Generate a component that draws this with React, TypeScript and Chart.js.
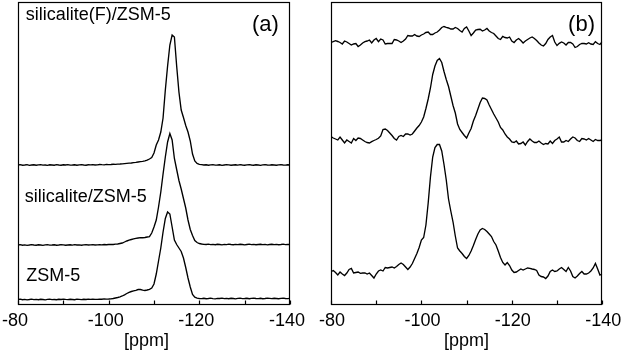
import React, { useEffect, useRef } from 'react';
import { Chart, registerables } from 'chart.js';

Chart.register(...registerables);

const FONT = '"Liberation Sans", Arial, Helvetica, sans-serif';

// chemical shift grid (ppm), 0.5 ppm steps
const ppm = [
  -80, -80.5, -81, -81.5, -82, -82.5, -83, -83.5, -84, -84.5,
  -85, -85.5, -86, -86.5, -87, -87.5, -88, -88.5, -89, -89.5,
  -90, -90.5, -91, -91.5, -92, -92.5, -93, -93.5, -94, -94.5,
  -95, -95.5, -96, -96.5, -97, -97.5, -98, -98.5, -99, -99.5,
  -100, -100.5, -101, -101.5, -102, -102.5, -103, -103.5, -104, -104.5,
  -105, -105.5, -106, -106.5, -107, -107.5, -108, -108.5, -109, -109.5,
  -110, -110.5, -111, -111.5, -112, -112.5, -113, -113.5, -114, -114.5,
  -115, -115.5, -116, -116.5, -117, -117.5, -118, -118.5, -119, -119.5,
  -120, -120.5, -121, -121.5, -122, -122.5, -123, -123.5, -124, -124.5,
  -125, -125.5, -126, -126.5, -127, -127.5, -128, -128.5, -129, -129.5,
  -130, -130.5, -131, -131.5, -132, -132.5, -133, -133.5, -134, -134.5,
  -135, -135.5, -136, -136.5, -137, -137.5, -138, -138.5, -139, -139.5,
  -140,
];

const xTicksLabelled = [-80, -100, -120, -140];

// panel (a): stacked spectra (intensity incl. vertical offset)
const aSilicaliteF = [
  140, 140.3, 139.8, 140, 140.4, 139.7, 140, 140.2, 139.8, 140.1,
  140.4, 139.9, 140, 139.6, 140.2, 140, 139.8, 140.3, 140, 139.8,
  140.2, 140, 140.4, 139.9, 140, 140.2, 139.8, 140.1, 140.3, 140,
  139.8, 140.2, 140.1, 140.4, 140, 140.2, 140.5, 140.3, 140.2, 140.6,
  140.4, 140.5, 140.7, 140.6, 140.9, 141, 141.2, 141.4, 141.6, 141.8,
  142, 142.4, 142.6, 143, 143.3, 143.6, 144.1, 144.8, 146, 147.5,
  152, 160, 165, 173, 187, 215, 239, 260, 270, 268,
  239, 213, 195, 187.5, 179.5, 173, 164, 151, 144, 141.5,
  140.6, 140.3, 140, 140.2, 139.8, 140.1, 140.3, 139.9, 140, 140.2,
  139.7, 140, 140.3, 140.1, 139.8, 140, 140.2, 139.9, 140.3, 140,
  139.8, 140.1, 140.4, 140, 139.8, 140.2, 140, 139.7, 140.1, 140.3,
  140, 139.9, 140.2, 140, 139.8, 140.1, 140.3, 140, 139.9, 140.2,
  140,
];

const aSilicalite = [
  60, 60.3, 59.8, 60.1, 59.7, 60, 60.4, 60, 59.8, 60.2,
  60, 59.7, 60.1, 60.3, 59.9, 60, 60.2, 59.8, 60, 60.4,
  60.1, 59.8, 60, 60.2, 59.9, 60.3, 60, 60.1, 59.8, 60.2,
  60.4, 60, 60.1, 60.3, 60, 60.2, 60.4, 60.2, 60.5, 60.3,
  60.5, 60.6, 60.5, 60.8, 61, 61.5, 62, 63, 64, 64.8,
  65.5, 66.2, 66.7, 67, 67.3, 67.3, 67.5, 68, 68.3, 72,
  78, 85, 98, 113, 131, 148, 163, 171.5, 165, 146.5,
  135.5, 124.5, 116, 106.5, 97, 85, 75.5, 69.5, 64.5, 62.5,
  61.5, 61, 60.7, 60.5, 60.8, 60.4, 60.6, 60.3, 60.7, 60.5,
  60.2, 60.6, 60.4, 60.8, 60.5, 60.3, 60.6, 60.4, 60.7, 60.5,
  60.2, 60.5, 60.8, 60.4, 60.6, 60.3, 60.5, 60.7, 60.4, 60.6,
  60.2, 60.5, 60.7, 60.4, 60.6, 60.3, 60.5, 60.8, 60.4, 60.6,
  60.5,
];

const aZSM5 = [
  5.5, 5.8, 5.3, 5.6, 5.2, 5.5, 5.9, 5.4, 5.6, 5.3,
  5.7, 5.5, 5.2, 5.6, 5.8, 5.4, 5.5, 5.3, 5.7, 5.5,
  5.9, 5.6, 5.4, 5.7, 5.5, 5.3, 5.8, 5.6, 5.4, 5.7,
  5.5, 5.8, 5.6, 5.9, 5.7, 5.6, 5.9, 5.8, 6.1, 5.9,
  6, 6.2, 6.5, 7, 7.5, 8.2, 9, 10.2, 11.5, 12.6,
  13.5, 14.2, 14.7, 15.5, 15.5, 14.8, 14.5, 15, 15.7, 17,
  21, 31, 44, 57, 73, 86.5, 93, 91, 78, 65,
  60.5, 57, 53.5, 47, 37.5, 27, 18, 10.5, 7.8, 6.8,
  6.5, 6.4, 6.7, 6.3, 6.5, 6.8, 6.4, 6.2, 6.6, 6.5,
  6.9, 6.4, 6.6, 6.3, 6.7, 6.5, 6.2, 6.6, 6.8, 6.4,
  6.5, 6.7, 6.3, 6.6, 6.9, 6.5, 6.4, 6.7, 6.3, 6.5,
  6.8, 6.6, 6.4, 6.7, 6.5, 6.3, 6.6, 6.8, 6.5, 6.4,
  6.6,
];

// panel (b)
const bTop = [
  262.3, 263.5, 264.3, 263.5, 262.5, 261, 264, 263, 261.5, 260,
  261, 261.5, 258.5, 260, 262, 263.3, 264, 265, 262, 265,
  266.5, 263.3, 266, 265, 261, 261.5, 261.5, 261.5, 265.5, 265,
  264, 262.5, 264, 266, 269.5, 269, 269, 270.5, 269, 268.5,
  270, 271, 272.5, 273, 270.5, 270.5, 272, 273, 275, 277.5,
  278.5, 277.7, 277, 276, 276, 277.5, 276.5, 274.5, 273, 276.5,
  278, 274, 269.5, 272, 275, 275.5, 275.7, 274, 275, 276.5,
  274, 272.5, 271.5, 269, 266.5, 265.5, 268.7, 267.5, 267, 268,
  264, 262.5, 265, 266.5, 264.5, 262, 264, 265.5, 267, 268,
  266.5, 264.5, 262, 260, 259, 261.5, 265.5, 268, 269.5, 263,
  259.5, 261.7, 263, 262, 260, 262.5, 262.5, 261, 257.5, 258.5,
  260.5, 261.5, 261.5, 261, 262.3, 261, 260.5, 263.3, 261.5, 260.5,
  263.3,
];

const bMiddle = [
  168.3, 167, 166, 165, 168, 165, 162, 165, 163.5, 162,
  166.5, 164.5, 167, 166.5, 165, 163.5, 162.5, 162, 163.3, 164.5,
  165.5, 166.7, 169, 175.5, 176, 174.5, 172, 169.5, 166.5, 165,
  168.5, 169.5, 168.5, 171, 171, 170, 171, 174, 177, 179.5,
  183, 188, 196.5, 206, 217, 230.5, 239, 244.5, 246.5, 242.5,
  233.5, 225.5, 218.5, 209, 199.5, 192, 181, 175.5, 172.5, 169.5,
  167, 172, 176.5, 184, 189.5, 196, 202.5, 207, 206.5, 205,
  200, 195.5, 191, 187, 183, 177.5, 175, 171, 168, 166,
  163, 162.5, 164, 161, 161.5, 163, 160, 163.5, 166, 164,
  162.5, 162.5, 164, 162, 160.5, 161.5, 161, 164, 161.5, 164.5,
  166, 168, 163, 163, 164.5, 163.5, 166, 168, 167, 164.5,
  163.5, 166.5, 166, 165, 166.5, 165, 163.5, 165.5, 164.5, 164.5,
  165,
];

const bBottom = [
  33.3, 34.5, 32.5, 30, 33, 31, 29.5, 32, 35.5, 36.5,
  32, 32.5, 33, 31.7, 32, 32, 31, 32, 29.5, 27,
  31, 34, 35, 34, 37.5, 37, 37.5, 38, 37, 38.5,
  40.5, 42, 40.5, 38, 35.5, 38, 41.5, 46.5, 51.5, 57.5,
  65, 67.5, 80, 102, 128, 148, 157.5, 160.5, 160.5, 154,
  140.5, 125, 106, 94, 83, 69, 57, 54, 51.5, 48.5,
  46.5, 49.5, 54, 59.5, 65.5, 71, 75, 76.5, 75.5, 73.5,
  71, 68.5, 63.5, 60, 54, 47.5, 42.5, 40, 42.5, 39.5,
  35, 32.5, 33, 34.5, 36, 35, 36, 37, 36.7, 36,
  35.5, 34.5, 30, 28.5, 28, 26.5, 29, 33.5, 35, 33.5,
  34, 36, 37.5, 35.5, 33.5, 37.5, 34, 28.5, 27, 29,
  31.5, 33.5, 31, 31, 32, 34, 37, 41.5, 36, 30,
  31,
];

type Note = { text: string; x: number; y: number; size: number };

const notesA: Note[] = [
  { text: 'silicalite(F)/ZSM-5', x: -81.7, y: 285.5, size: 18 },
  { text: 'silicalite/ZSM-5', x: -81.5, y: 103.3, size: 18 },
  { text: 'ZSM-5', x: -81.8, y: 24, size: 18 },
  { text: '(a)', x: -131.6, y: 274.5, size: 22 },
];
const notesB: Note[] = [{ text: '(b)', x: -132.45, y: 274.5, size: 22 }];

const framePlugin = {
  id: 'frame',
  afterDraw(chart: any, _args: any, opts: any) {
    const { ctx, chartArea: a, scales } = chart;
    const xs = scales.x;
    const ys = scales.y;
    ctx.save();
    ctx.strokeStyle = '#000';
    ctx.lineWidth = 1.2;
    const l = Math.round(a.left) + 0.5;
    const r = Math.round(a.right) - 0.5;
    const t = Math.round(a.top) + 0.5;
    const b = Math.round(a.bottom) - 0.5;
    ctx.strokeRect(l, t, r - l, b - t);
    xs.ticks.forEach((tk: any) => {
      const px = Math.round(xs.getPixelForValue(tk.value)) + 0.5;
      ctx.beginPath();
      ctx.moveTo(px, b);
      ctx.lineTo(px, b - 4);
      ctx.stroke();
    });
    ctx.fillStyle = '#000';
    ctx.textBaseline = 'alphabetic';
    ctx.textAlign = 'left';
    (opts.notes || []).forEach((n: Note) => {
      ctx.font = `${n.size}px ${FONT}`;
      ctx.fillText(n.text, xs.getPixelForValue(n.x), ys.getPixelForValue(n.y));
    });
    ctx.restore();
  },
};

function makeConfig(
  series: number[][],
  notes: Note[],
  padRight: number,
  labelOffset: number,
  titleText: string
): any {
  return {
    type: 'line',
    data: {
      datasets: series.map((s) => ({
        data: ppm.map((x, i) => ({ x, y: s[i] })),
        borderColor: '#000',
        borderWidth: 1.35,
        pointRadius: 0,
        tension: 0,
        fill: false,
      })),
    },
    options: {
      animation: false,
      responsive: false,
      events: [],
      layout: { padding: { left: 15, right: padRight, top: 2, bottom: 0 } },
      plugins: {
        legend: { display: false },
        tooltip: { enabled: false },
        frame: { notes },
      },
      scales: {
        x: {
          type: 'linear',
          min: -140,
          max: -80,
          reverse: true,
          afterFit: (scale: any) => {
            scale.height = 47;
          },
          grid: { display: false, drawTicks: false },
          border: { display: false },
          ticks: {
            stepSize: 10,
            autoSkip: false,
            maxRotation: 0,
            padding: 5,
            labelOffset,
            color: '#000',
            font: { family: FONT, size: 18 },
            callback: (v: number) => (xTicksLabelled.includes(v) ? String(v) : ''),
          },
          title: {
            display: true,
            text: titleText,
            color: '#000',
            font: { family: FONT, size: 18 },
            padding: { top: 0, bottom: 0 },
          },
        },
        y: { display: false, min: 0, max: 303 },
      },
    },
    plugins: [framePlugin],
  };
}

export default function App() {
  const refA = useRef<HTMLCanvasElement>(null);
  const refB = useRef<HTMLCanvasElement>(null);

  useEffect(() => {
    const ca = new Chart(
      refA.current!,
      makeConfig([aSilicaliteF, aSilicalite, aZSM5], notesA, 22.5, -3, '[ppm]   ')
    );
    const cb = new Chart(
      refB.current!,
      makeConfig([bTop, bMiddle, bBottom], notesB, 23.8, 1, '[ppm]')
    );
    return () => {
      ca.destroy();
      cb.destroy();
    };
  }, []);

  return (
    <div style={{ position: 'fixed', left: 0, top: 0, width: 626, height: 352, background: '#fff' }}>
      <canvas ref={refA} width={313} height={352} style={{ position: 'absolute', left: 0, top: 0 }} />
      <canvas ref={refB} width={313} height={352} style={{ position: 'absolute', left: 313, top: 0 }} />
    </div>
  );
}
